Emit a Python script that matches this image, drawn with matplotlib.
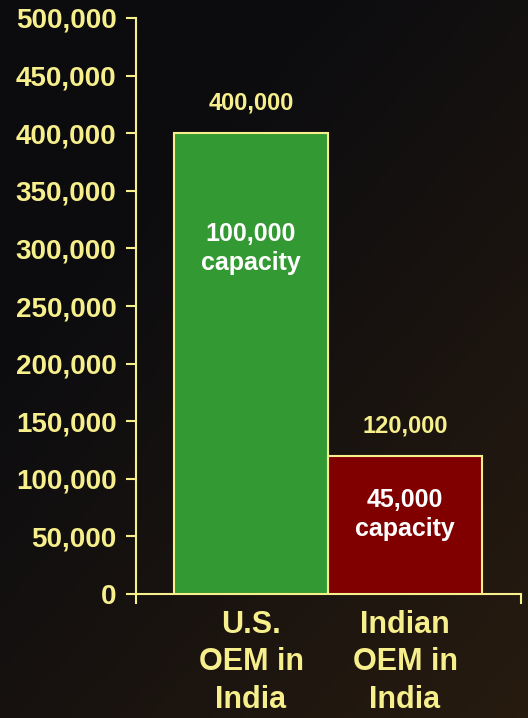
import numpy as np
import matplotlib
matplotlib.use('Agg')
import matplotlib.pyplot as plt

#### DATA ####
categories = ['U.S.\nOEM in\nIndia', 'Indian\nOEM in\nIndia']
values = [400000, 120000]
value_labels = ['400,000', '120,000']
capacity_labels = ['100,000\ncapacity', '45,000\ncapacity']
bar_colors = ['#339933', '#800000']
yticks = np.arange(0, 500001, 50000)

yellow = '#f7ef8c'
plt.rcParams['font.family'] = ['Liberation Sans', 'DejaVu Sans']
plt.rcParams['font.weight'] = 'bold'

fig = plt.figure(figsize=(5.28, 7.18), dpi=100)

# background gradient: dark at top left, brownish at bottom right
bg = fig.add_axes([0, 0, 1, 1])
yy, xx = np.mgrid[0:1:200j, 0:1:200j]
t = np.clip(0.6 * yy + 0.5 * xx - 0.3, 0, 1)
c0 = np.array([0x0c, 0x0c, 0x0f]) / 255
c1 = np.array([0x2e, 0x1f, 0x10]) / 255
img = c0 + (c1 - c0) * t[..., None]
bg.imshow(img, origin='upper', extent=[0, 1, 0, 1], aspect='auto')
bg.axis('off')

# plot area: x 136..521 px, y 18..594 px
ax = fig.add_axes([136 / 528, 1 - 594 / 718, (521 - 136) / 528, (594 - 18) / 718])
ax.patch.set_alpha(0)

x = np.arange(len(values))
ax.bar(x, values, width=1.0, color=bar_colors, edgecolor=yellow, linewidth=1.5, zorder=3)

for xi, v, vl, cl in zip(x, values, value_labels, capacity_labels):
    ax.text(xi, v + 16000, vl, ha='center', va='bottom', color=yellow,
            fontsize=17, fontweight='bold')
    ax.text(xi, v - 100000 if v > 200000 else v - 51000, cl, ha='center', va='center',
            color='white', fontsize=18, fontweight='bold', linespacing=1.3)

ax.set_xlim(-0.747, 1.753)
ax.set_ylim(0, 500000)
ax.set_yticks(yticks)
ax.set_yticklabels([f'{v:,}' for v in yticks], fontsize=20, fontweight='bold', color=yellow)
ax.set_xticks([-0.747, 1.753])
ax.set_xticklabels(['', ''])
ax.tick_params(axis='y', colors=yellow, length=7, width=1.5, pad=7)
ax.tick_params(axis='x', colors=yellow, length=7, width=1.5)

for s in ['top', 'right']:
    ax.spines[s].set_visible(False)
for s in ['left', 'bottom']:
    ax.spines[s].set_color(yellow)
    ax.spines[s].set_linewidth(1.5)

for xi, cat in zip(x, categories):
    ax.text(xi, -14000, cat, ha='center', va='top', color=yellow,
            fontsize=22, fontweight='bold', linespacing=1.32)

fig.savefig('out.png', dpi=100)
